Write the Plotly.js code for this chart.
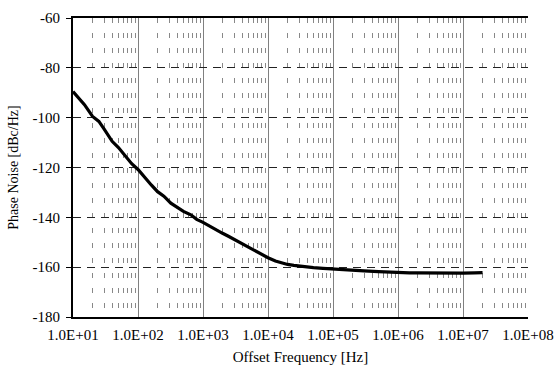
<!DOCTYPE html>
<html>
<head>
<meta charset="utf-8">
<script src="https://cdn.plot.ly/plotly-3.0.1.min.js"></script>
<style>html,body{margin:0;padding:0;background:#fff;}#chart{width:559px;height:372px;}</style>
</head>
<body>
<div id="chart"></div>
<script>
const freqHz = [10, 12, 15, 20, 25, 30, 40, 50, 65, 80, 100, 130, 160, 200, 250, 320, 400, 500, 650, 800,
  1000, 1300, 1600, 2000, 2500, 3200, 4000, 5000, 6500, 8000, 1e4, 1.3e4, 1.6e4, 2e4, 2.5e4, 3.2e4, 4e4, 5e4, 7e4,
  1e5, 1.5e5, 2e5, 3e5, 5e5, 7e5, 1e6, 1.5e6, 2e6, 3e6, 5e6, 7e6, 1e7, 1.5e7, 2e7];
const phaseNoise = [-89.5, -92, -94.8, -99.5, -101.5, -104.5, -109.5, -112, -115.6, -118.5, -120.8, -124.5, -127, -129.7,
  -131.5, -134.3, -136, -137.6, -139, -140.8, -142, -143.8, -145.2, -146.4, -147.7, -149.2, -150.6, -152, -153.6, -155,
  -156.2, -157.5, -158.3, -158.9, -159.3, -159.7, -160, -160.2, -160.5, -160.8, -161, -161.2, -161.5, -161.8, -162,
  -162.2, -162.3, -162.3, -162.4, -162.3, -162.4, -162.4, -162.3, -162.2];
const xTickVals = [1e1, 1e2, 1e3, 1e4, 1e5, 1e6, 1e7, 1e8];
const xTickText = ['1.0E+01', '1.0E+02', '1.0E+03', '1.0E+04', '1.0E+05', '1.0E+06', '1.0E+07', '1.0E+08'];
const yTickVals = [-180, -160, -140, -120, -100, -80, -60];
const yTickText = ['-180', '-160', '-140', '-120', '-100', '-80', '-60'];

const fam = 'Liberation Serif';
const font = {family: fam, size: 15, color: '#000'};

Plotly.newPlot('chart', [{
  x: freqHz, y: phaseNoise, type: 'scatter', mode: 'lines',
  line: {color: '#000', width: 3.2}, hoverinfo: 'skip'
}], {
  width: 559, height: 372,
  margin: {l: 73, r: 31, t: 18, b: 55},
  paper_bgcolor: '#fff', plot_bgcolor: '#fff',
  showlegend: false,
  font: font,
  xaxis: {
    type: 'log', range: [1, 8],
    tickvals: xTickVals, ticktext: xTickText,
    showgrid: true, gridcolor: '#808080', gridwidth: 1,
    minor: {dtick: 'D1', showgrid: true, gridcolor: '#888', griddash: '5px,10px', ticks: ''},
    showline: true, linecolor: '#000', linewidth: 2, mirror: true,
    ticks: '', ticklabelstandoff: 3,
    tickfont: font, zeroline: false,
    title: {text: 'Offset Frequency [Hz]', font: {family: fam, size: 15, color: '#000'}, standoff: 9}
  },
  yaxis: {
    range: [-180, -60], tickvals: yTickVals, ticktext: yTickText,
    showgrid: true, gridcolor: '#222', griddash: '8px,6px', gridwidth: 1,
    showline: true, linecolor: '#000', linewidth: 2, mirror: false,
    ticks: 'outside', ticklen: 5, tickcolor: '#000', tickwidth: 1,
    ticklabelstandoff: 3,
    tickfont: font, zeroline: false,
    title: {text: 'Phase Noise [dBc/Hz]', font: {family: fam, size: 14, color: '#000'}, standoff: 11}
  }
}, {staticPlot: true});
</script>
</body>
</html>
